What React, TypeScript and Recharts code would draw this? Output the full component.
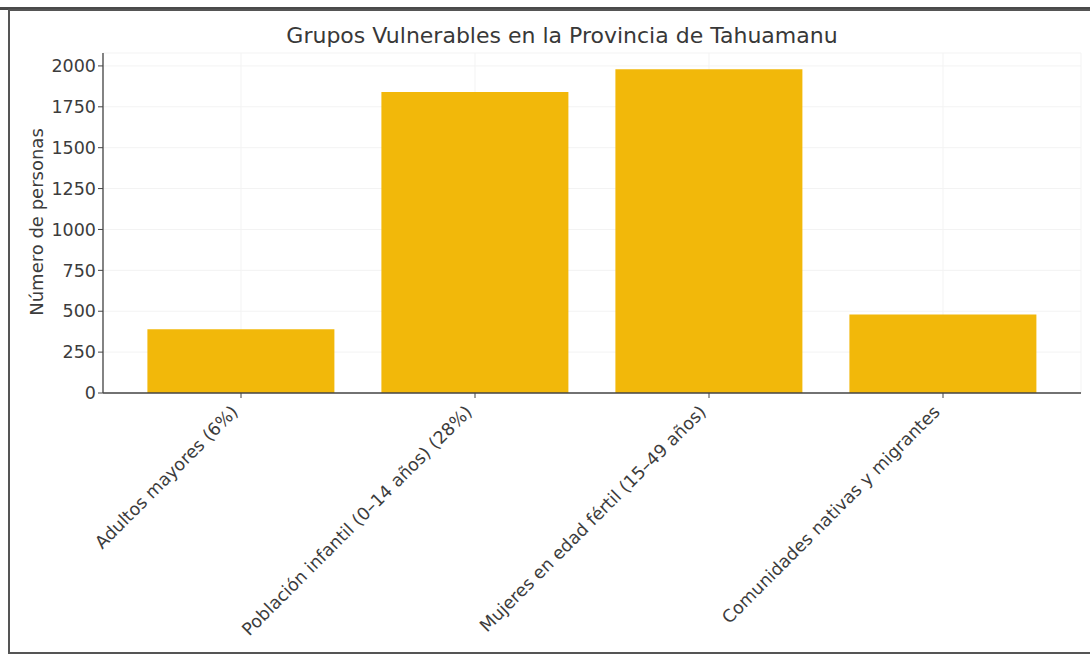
import React from "react";
import { BarChart, Bar, XAxis, YAxis, CartesianGrid } from "recharts";

const categories = [
  "Adultos mayores (6%)",
  "Población infantil (0–14 años) (28%)",
  "Mujeres en edad fértil (15–49 años)",
  "Comunidades nativas y migrantes",
];
const values = [390, 1840, 1980, 480];
const yTicks = [0, 250, 500, 750, 1000, 1250, 1500, 1750, 2000];
const title = "Grupos Vulnerables en la Provincia de Tahuamanu";
const yLabel = "Número de personas";

const data = categories.map((c, i) => ({ name: c, value: values[i] }));

const FONT = "DejaVu Sans, sans-serif";
const TXT = "#3c3c3c";

const XTick = (props: any) => {
  const { x, y, payload } = props;
  return (
    <g transform={`translate(${x - 2},${y + 13})`}>
      <text
        transform="rotate(-45)"
        textAnchor="end"
        fontFamily={FONT}
        fontSize={17.5}
        fill={TXT}
      >
        {payload.value}
      </text>
    </g>
  );
};

export default function App() {
  return (
    <div
      style={{
        position: "absolute",
        left: 0,
        top: 0,
        width: 1090,
        height: 655,
        background: "#fff",
        overflow: "hidden",
      }}
    >
      <div
        style={{
          position: "absolute",
          left: 0,
          top: 7,
          width: 1090,
          height: 3,
          background: "#4a4a4a",
        }}
      />
      <div
        style={{
          position: "absolute",
          left: 8,
          top: 9,
          width: 1100,
          height: 645,
          border: "2px solid #555",
          boxSizing: "border-box",
        }}
      />
      <div style={{ position: "absolute", left: 0, top: 0 }}>
        <BarChart
          width={1090}
          height={655}
          data={data}
          margin={{ top: 53, right: 9, bottom: 62, left: 43 }}
          barCategoryGap="10%"
        >
          <text
            x={562}
            y={43}
            textAnchor="middle"
            fontFamily={FONT}
            fontSize={22}
            fill="#383838"
          >
            {title}
          </text>
          <text
            transform="translate(43,222) rotate(-90)"
            textAnchor="middle"
            fontFamily={FONT}
            fontSize={18}
            fill={TXT}
          >
            {yLabel}
          </text>
          <CartesianGrid stroke="#f3f3f3" strokeWidth={1} />
          <XAxis
            dataKey="name"
            interval={0}
            height={200}
            padding={{ left: 21, right: 21 }}
            tick={<XTick />}
            tickLine={{ stroke: "#444" }}
            tickSize={5}
            axisLine={{ stroke: "#444", strokeWidth: 1.3 }}
          />
          <YAxis
            width={60}
            domain={[0, 2079]}
            ticks={yTicks}
            interval={0}
            tickSize={5}
            tickLine={{ stroke: "#444" }}
            axisLine={{ stroke: "#444", strokeWidth: 1.3 }}
            tick={{ fontFamily: FONT, fontSize: 17.5, fill: TXT }}
          />
          <Bar dataKey="value" fill="#F2B80A" isAnimationActive={false} />
        </BarChart>
      </div>
    </div>
  );
}
